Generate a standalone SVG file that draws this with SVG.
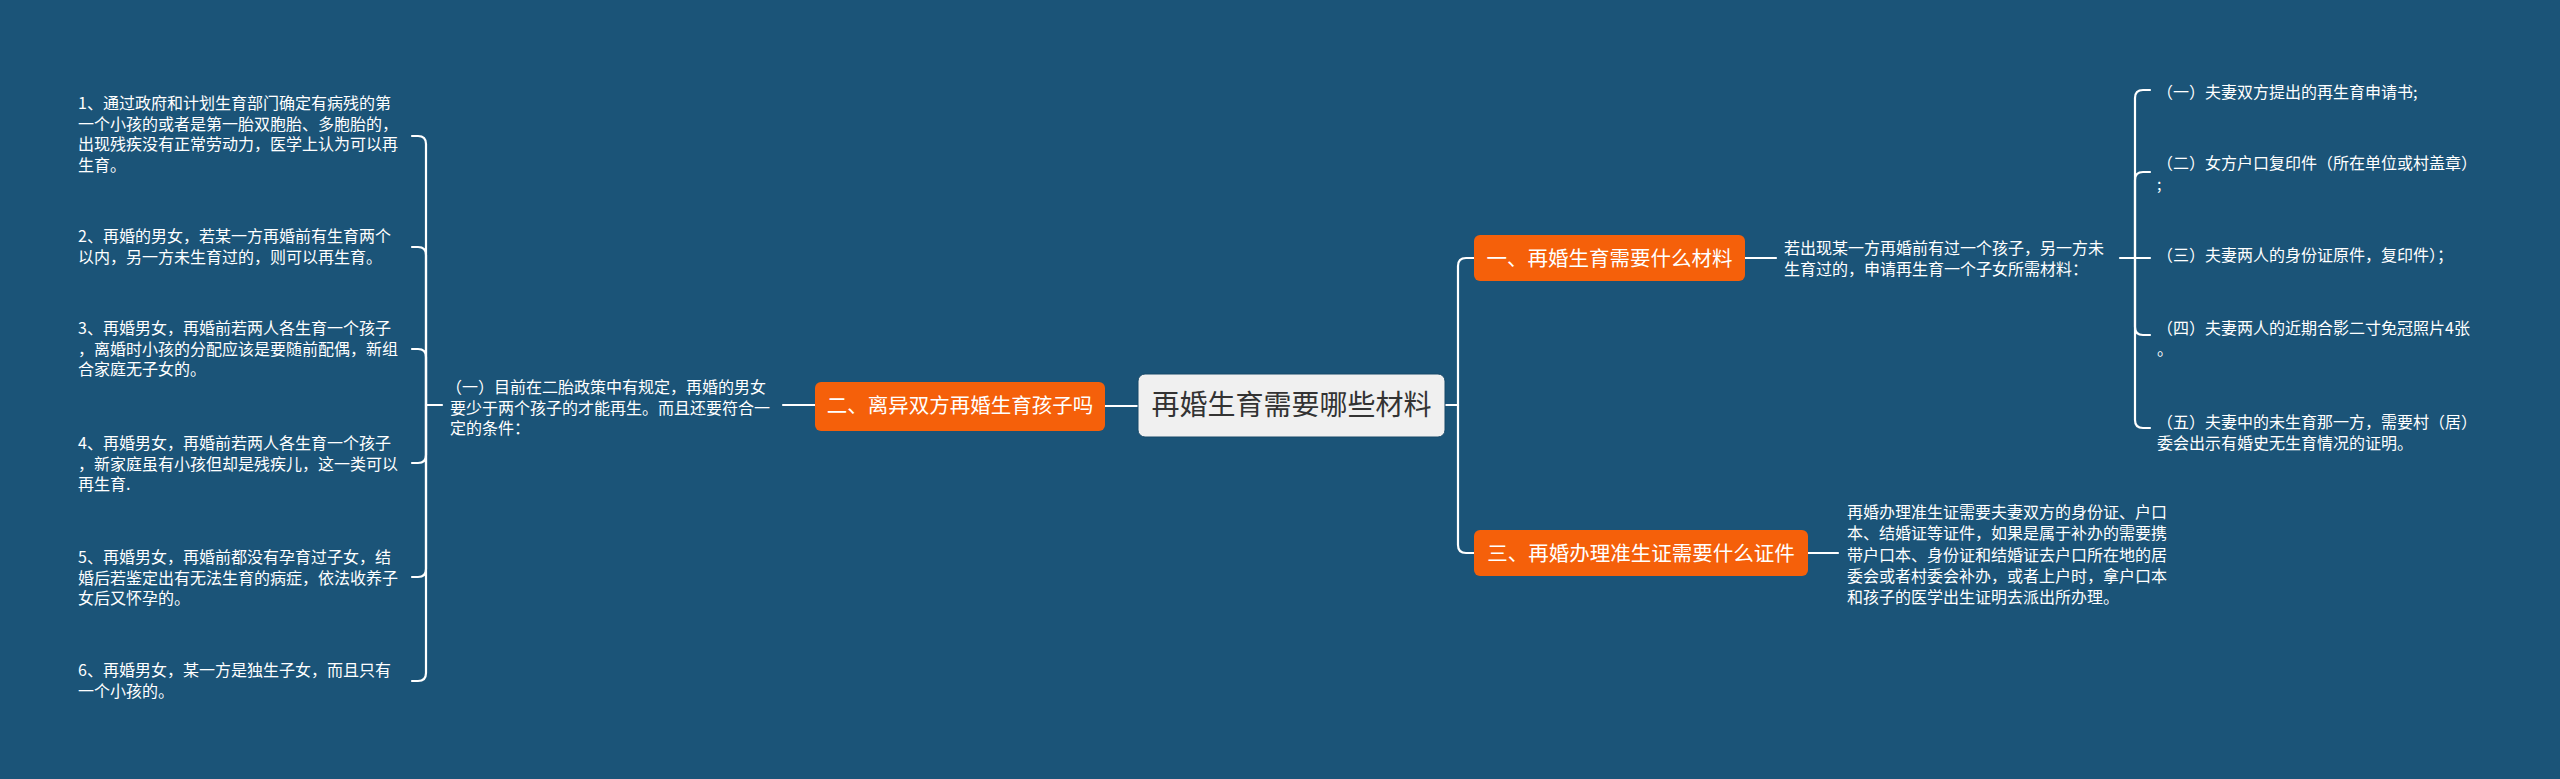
<svg xmlns="http://www.w3.org/2000/svg" width="2560" height="779" viewBox="0 0 2560 779">
<defs>
<style>
.bg{fill:#1b5478}
.conn{fill:none;stroke:#ffffff;stroke-width:2.2;stroke-linecap:round}
.t{font-family:"Noto Sans CJK SC","Noto Sans",sans-serif;font-size:16px;fill:#ffffff}
.main{fill:#f5600a;stroke:none}
.mt{font-family:"Noto Sans CJK SC","Noto Sans",sans-serif;font-size:20.5px;fill:#ffffff;text-anchor:middle}
.root{fill:#f0f0f0;stroke:#164868;stroke-width:1}
.rt{font-family:"Noto Sans CJK SC","Noto Sans",sans-serif;font-size:28px;fill:#333333;text-anchor:middle}
</style>
</defs>
<rect class="bg" x="0" y="0" width="2560" height="779"/>

<g id="connectors">
  <!-- root to node 2 -->
  <path class="conn" d="M1105 406 H1138"/>
  <!-- node 2 to its text -->
  <path class="conn" d="M783 405 H815"/>
  <!-- left bracket -->
  <path class="conn" d="M442 405 H426"/>
  <path class="conn" d="M426 405 V144 Q426 136 418 136 H412"/>
  <path class="conn" d="M426 405 V255 Q426 247 418 247 H412"/>
  <path class="conn" d="M426 405 V357 Q426 349 418 349 H412"/>
  <path class="conn" d="M426 405 V455 Q426 463 418 463 H412"/>
  <path class="conn" d="M426 405 V569 Q426 577 418 577 H412"/>
  <path class="conn" d="M426 405 V673 Q426 681 418 681 H412"/>
  <!-- root to right trunk -->
  <path class="conn" d="M1445 405 H1458"/>
  <path class="conn" d="M1458 405 V266 Q1458 258 1466 258 H1474"/>
  <path class="conn" d="M1458 405 V545 Q1458 553 1466 553 H1474"/>
  <!-- node 1 to text -->
  <path class="conn" d="M1745 258 H1776"/>
  <!-- text to right bracket -->
  <path class="conn" d="M2120 258 H2135"/>
  <path class="conn" d="M2135 258 V98 Q2135 90 2143 90 H2150"/>
  <path class="conn" d="M2135 258 V180 Q2135 172 2143 172 H2150"/>
  <path class="conn" d="M2135 258 H2150"/>
  <path class="conn" d="M2135 258 V327 Q2135 335 2143 335 H2150"/>
  <path class="conn" d="M2135 258 V420 Q2135 428 2143 428 H2150"/>
  <!-- node 3 to text -->
  <path class="conn" d="M1808 553 H1838"/>
</g>

<g id="root">
  <rect class="root" x="1138" y="374" width="307" height="63" rx="7"/>
  <text class="rt" x="1291.5" y="415">再婚生育需要哪些材料</text>
</g>

<g id="node2">
  <rect class="main" x="815" y="382" width="290" height="49" rx="6"/>
  <text class="mt" x="960" y="413">二、离异双方再婚生育孩子吗</text>
</g>

<g id="node2-text">
  <text class="t" x="446" y="393">（一）目前在二胎政策中有规定，再婚的男女</text>
  <text class="t" x="450" y="414">要少于两个孩子的才能再生。而且还要符合一</text>
  <text class="t" x="450" y="434">定的条件：</text>
</g>

<g id="item1">
  <text class="t" x="78" y="109">1、通过政府和计划生育部门确定有病残的第</text>
  <text class="t" x="78" y="129.7">一个小孩的或者是第一胎双胞胎、多胞胎的，</text>
  <text class="t" x="78" y="150.4">出现残疾没有正常劳动力，医学上认为可以再</text>
  <text class="t" x="78" y="171.1">生育。</text>
</g>
<g id="item2">
  <text class="t" x="78" y="242">2、再婚的男女，若某一方再婚前有生育两个</text>
  <text class="t" x="78" y="262.7">以内，另一方未生育过的，则可以再生育。</text>
</g>
<g id="item3">
  <text class="t" x="78" y="334">3、再婚男女，再婚前若两人各生育一个孩子</text>
  <text class="t" x="78" y="354.7">，离婚时小孩的分配应该是要随前配偶，新组</text>
  <text class="t" x="78" y="375.4">合家庭无子女的。</text>
</g>
<g id="item4">
  <text class="t" x="78" y="449">4、再婚男女，再婚前若两人各生育一个孩子</text>
  <text class="t" x="78" y="469.7">，新家庭虽有小孩但却是残疾儿，这一类可以</text>
  <text class="t" x="78" y="490.4">再生育.</text>
</g>
<g id="item5">
  <text class="t" x="78" y="563">5、再婚男女，再婚前都没有孕育过子女，结</text>
  <text class="t" x="78" y="583.7">婚后若鉴定出有无法生育的病症，依法收养子</text>
  <text class="t" x="78" y="604.4">女后又怀孕的。</text>
</g>
<g id="item6">
  <text class="t" x="78" y="676">6、再婚男女，某一方是独生子女，而且只有</text>
  <text class="t" x="78" y="696.7">一个小孩的。</text>
</g>

<g id="node1">
  <rect class="main" x="1474" y="235" width="271" height="46" rx="6"/>
  <text class="mt" x="1609.5" y="265.5">一、再婚生育需要什么材料</text>
</g>
<g id="node1-text">
  <text class="t" x="1784" y="254">若出现某一方再婚前有过一个孩子，另一方未</text>
  <text class="t" x="1784" y="275">生育过的，申请再生育一个子女所需材料：</text>
</g>

<g id="r1">
  <text class="t" x="2157" y="98">（一）夫妻双方提出的再生育申请书;</text>
</g>
<g id="r2">
  <text class="t" x="2157" y="169">（二）女方户口复印件（所在单位或村盖章）</text>
  <text class="t" x="2157" y="190">;</text>
</g>
<g id="r3">
  <text class="t" x="2157" y="261">（三）夫妻两人的身份证原件，复印件）；</text>
</g>
<g id="r4">
  <text class="t" x="2157" y="334">（四）夫妻两人的近期合影二寸免冠照片4张</text>
  <text class="t" x="2157" y="355">。</text>
</g>
<g id="r5">
  <text class="t" x="2157" y="428">（五）夫妻中的未生育那一方，需要村（居）</text>
  <text class="t" x="2157" y="448.5">委会出示有婚史无生育情况的证明。</text>
</g>

<g id="node3">
  <rect class="main" x="1474" y="530" width="334" height="46" rx="6"/>
  <text class="mt" x="1641" y="560.5">三、再婚办理准生证需要什么证件</text>
</g>
<g id="node3-text">
  <text class="t" x="1847" y="518">再婚办理准生证需要夫妻双方的身份证、户口</text>
  <text class="t" x="1847" y="539.3">本、结婚证等证件，如果是属于补办的需要携</text>
  <text class="t" x="1847" y="560.6">带户口本、身份证和结婚证去户口所在地的居</text>
  <text class="t" x="1847" y="581.9">委会或者村委会补办，或者上户时，拿户口本</text>
  <text class="t" x="1847" y="603.2">和孩子的医学出生证明去派出所办理。</text>
</g>
</svg>
